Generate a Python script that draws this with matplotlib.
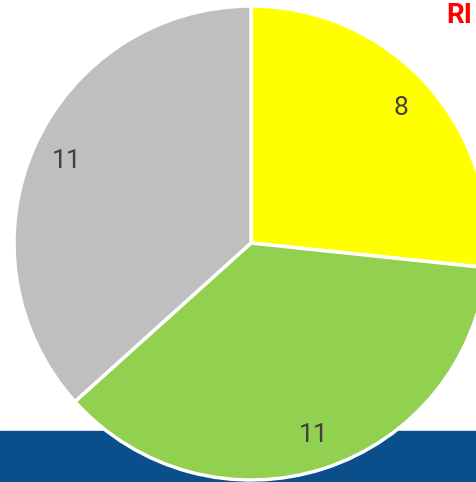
import matplotlib
matplotlib.use("Agg")
import matplotlib.pyplot as plt
from matplotlib.patches import Rectangle

values = [8, 11, 11]
labels = ["8", "11", "11"]
colors = ["#ffff00", "#92d050", "#bfbfbf"]

W, H = 476, 482
fig = plt.figure(figsize=(W / 100, H / 100), dpi=100)
ax = fig.add_axes([0, 0, 1, 1])
ax.set_xlim(0, W)
ax.set_ylim(0, H)
ax.axis("off")

# blue band at bottom
ax.add_patch(Rectangle((0, 0), W, H - 431, color="#0a4f8b", zorder=0))

cx, cy, r = 251, H - 243, 237
wedges, texts = ax.pie(values, labels=labels, colors=colors, startangle=90,
                       counterclock=False, center=(cx, cy), radius=r,
                       labeldistance=0.85, frame=True,
                       wedgeprops=dict(edgecolor="white", linewidth=2.5),
                       textprops=dict(fontsize=19, color="#404040", family="Roboto",
                                      ha="center", va="center"))
for w in wedges:
    w.set_zorder(2)
for t in texts:
    t.set_zorder(3)
ax.set_xlim(0, W)
ax.set_ylim(0, H)
ax.set_aspect("auto")
ax.axis("off")

fig.text(446 / W, 1 - 2 / H, "RI", color="red", fontsize=20, fontweight="bold",
         family="Roboto", ha="left", va="top")

fig.savefig("out.png", dpi=100)
